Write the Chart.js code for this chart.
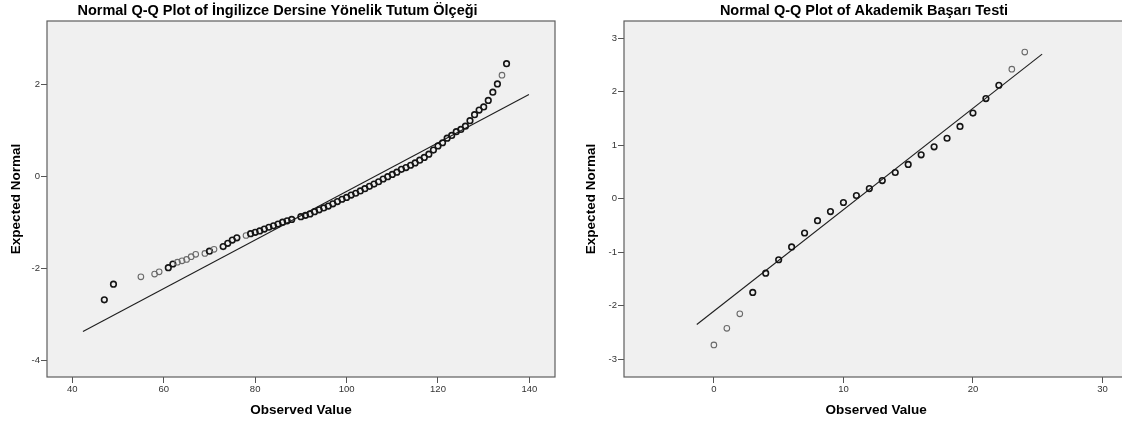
<!DOCTYPE html>
<html><head><meta charset="utf-8">
<script src="https://cdn.jsdelivr.net/npm/chart.js@4.4.1/dist/chart.umd.min.js"></script>
<style>
html,body{margin:0;padding:0;background:#fff;overflow:hidden;width:1122px;height:424px;}
#wrapL{position:absolute;left:0;top:0;width:561px;height:424px;}
#wrapR{position:absolute;left:561px;top:0;width:573px;height:424px;}
</style></head><body>
<div id="wrapL"><canvas id="cL" width="561" height="424"></canvas></div>
<div id="wrapR"><canvas id="cR" width="573" height="424"></canvas></div>
<script>
const leftTitle = "Normal Q-Q Plot of İngilizce Dersine Yönelik Tutum Ölçeği";
const rightTitle = "Normal Q-Q Plot of Akademik Başarı Testi";
const xAxisTitle = "Observed Value";
const yAxisTitle = "Expected Normal";

const leftObserved = [47,49,55,58,59,61,62,63,64,65,66,67,69,70,71,73,74,75,76,78,79,80,81,82,83,84,85,86,87,88,90,91,92,93,94,95,96,97,98,99,100,101,102,103,104,105,106,107,108,109,110,111,112,113,114,115,116,117,118,119,120,121,122,123,124,125,126,127,128,129,130,131,132,133,134,135];
const leftExpected = [-2.69,-2.35,-2.19,-2.13,-2.08,-1.99,-1.91,-1.87,-1.84,-1.81,-1.75,-1.70,-1.68,-1.63,-1.59,-1.53,-1.46,-1.39,-1.34,-1.29,-1.25,-1.22,-1.19,-1.15,-1.11,-1.08,-1.04,-1.00,-0.97,-0.94,-0.88,-0.85,-0.82,-0.77,-0.73,-0.69,-0.65,-0.60,-0.55,-0.50,-0.46,-0.41,-0.37,-0.32,-0.27,-0.22,-0.17,-0.12,-0.06,-0.01,0.04,0.09,0.15,0.19,0.24,0.29,0.35,0.41,0.48,0.57,0.66,0.73,0.83,0.89,0.97,1.02,1.09,1.21,1.34,1.44,1.51,1.65,1.83,2.01,2.20,2.45];
const leftSingleCases = [55,58,59,63,64,65,66,67,69,71,78,134];
const leftLineX = [42.33, 139.9];
const leftLineY = [-3.38, 1.78];
const leftXTicks = [40,60,80,100,120,140];
const leftYTicks = [-4,-2,0,2];

const rightObserved = [0,1,2,3,4,5,6,7,8,9,10,11,12,13,14,15,16,17,18,19,20,21,22,23,24];
const rightExpected = [-2.73,-2.42,-2.15,-1.75,-1.39,-1.14,-0.90,-0.64,-0.41,-0.24,-0.07,0.06,0.19,0.34,0.49,0.64,0.82,0.97,1.13,1.35,1.60,1.87,2.12,2.42,2.74];
const rightSingleCases = [0,1,2,23,24];
const rightLineX = [-1.32, 25.34];
const rightLineY = [-2.35, 2.70];
const rightXTicks = [0,10,20,30];
const rightYTicks = [-3,-2,-1,0,1,2,3];

const FONT = "'Liberation Sans', Arial, Helvetica, sans-serif";

const boxPlugin = {
  id: 'plotBox',
  beforeDraw(chart) {
    const a = chart.chartArea, ctx = chart.ctx;
    ctx.save();
    ctx.fillStyle = '#f0f0f0';
    ctx.fillRect(a.left, a.top, a.right - a.left, a.bottom - a.top);
    ctx.restore();
  },
  afterDraw(chart) {
    const a = chart.chartArea, ctx = chart.ctx;
    ctx.save();
    ctx.strokeStyle = '#5e5e5e';
    ctx.lineWidth = 1.2;
    ctx.strokeRect(a.left, a.top, a.right - a.left, a.bottom - a.top);
    ctx.restore();
  }
};

function makeChart(id, o) {
  const pts = o.xs.map((x, i) => ({x: x, y: o.ys[i]}));
  const line = o.lx.map((x, i) => ({x: x, y: o.ly[i]}));
  const isSingle = (ctx) => {
    const p = ctx.raw;
    return p && o.single.indexOf(p.x) >= 0;
  };
  return new Chart(document.getElementById(id), {
    type: 'scatter',
    data: {
      datasets: [
        {
          data: pts,
          pointStyle: 'circle',
          pointRadius: 2.8,
          backgroundColor: 'rgba(0,0,0,0)',
          borderColor: (c) => isSingle(c) ? '#6a6a6a' : '#151515',
          borderWidth: (c) => isSingle(c) ? 1.1 : 1.6,
          order: 1
        },
        {
          type: 'line',
          data: line,
          showLine: true,
          borderColor: '#1e1e1e',
          borderWidth: 1.1,
          pointRadius: 0,
          fill: false,
          order: 2
        }
      ]
    },
    options: {
      responsive: false,
      animation: false,
      events: [],
      layout: { padding: { left: o.padLeft, right: o.padRight, top: 0, bottom: 0 } },
      plugins: {
        legend: { display: false },
        tooltip: { enabled: false },
        title: {
          display: true,
          text: o.title,
          color: '#000',
          font: { family: FONT, size: 14.5, weight: 'bold', lineHeight: 1.2 },
          padding: { top: 2, bottom: 1.6 }
        }
      },
      scales: {
        x: {
          type: 'linear',
          min: o.xmin, max: o.xmax,
          afterBuildTicks: (s) => { s.ticks = o.xt.map(v => ({value: v})); },
          afterFit: (s) => { s.height = 47; },
          grid: { drawOnChartArea: false, drawTicks: true, tickLength: 6, color: '#555', lineWidth: 1 },
          border: { display: false },
          ticks: { color: '#333', font: { family: FONT, size: 9.5 }, padding: 1, maxRotation: 0, autoSkip: false, callback: (v) => String(v) },
          title: { display: true, text: xAxisTitle, color: '#000', font: { family: FONT, size: 13.5, weight: 'bold', lineHeight: 1.2 }, padding: { top: 0, bottom: 5.9 } }
        },
        y: {
          type: 'linear',
          min: o.ymin, max: o.ymax,
          afterBuildTicks: (s) => { s.ticks = o.yt.map(v => ({value: v})); },
          afterFit: (s) => { s.width = o.yw; },
          grid: { drawOnChartArea: false, drawTicks: true, tickLength: 6, color: '#555', lineWidth: 1 },
          border: { display: false },
          ticks: { color: '#333', font: { family: FONT, size: 9.5 }, padding: 1, autoSkip: false, callback: (v) => String(v) },
          title: { display: true, text: yAxisTitle, color: '#000', font: { family: FONT, size: 13.5, weight: 'bold', lineHeight: 1.2 }, padding: { top: o.yTitlePad, bottom: 0 } }
        }
      }
    },
    plugins: [boxPlugin]
  });
}

makeChart('cL', {
  title: leftTitle, xs: leftObserved, ys: leftExpected, single: leftSingleCases,
  lx: leftLineX, ly: leftLineY, xt: leftXTicks, yt: leftYTicks,
  xmin: 34.46, xmax: 145.6, ymin: -4.37, ymax: 3.38,
  padLeft: 0, yw: 47, padRight: 6, yTitlePad: 7.9
});
makeChart('cR', {
  title: rightTitle, xs: rightObserved, ys: rightExpected, single: rightSingleCases,
  lx: rightLineX, ly: rightLineY, xt: rightXTicks, yt: rightYTicks,
  xmin: -6.94, xmax: 32.0, ymin: -3.33, ymax: 3.32,
  padLeft: 34, yw: 29, padRight: 1, yTitlePad: -12.1
});
</script>
</body></html>
